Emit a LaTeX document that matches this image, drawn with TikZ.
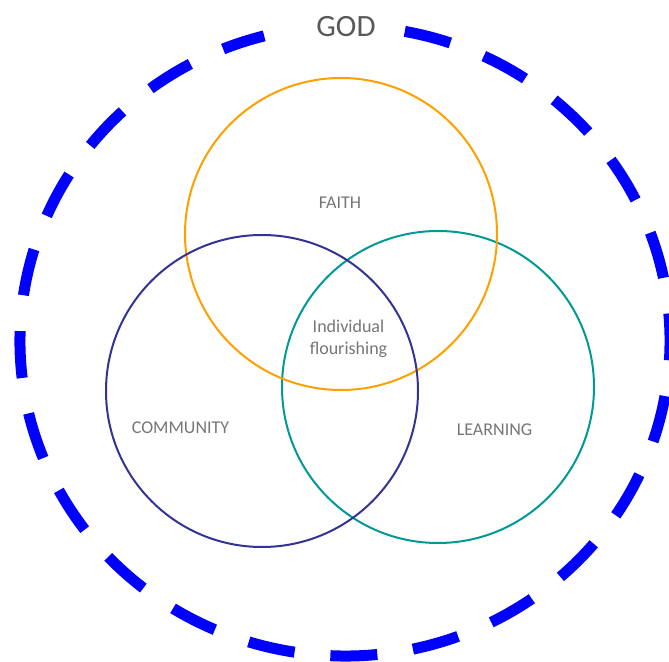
\documentclass[tikz,border=0pt]{standalone}
\usepackage{fontspec}
\setmainfont{Carlito}
\usepackage{tikz}

\definecolor{godblue}{RGB}{0,0,255}
\definecolor{faithorange}{RGB}{255,160,0}
\definecolor{communitynavy}{RGB}{51,51,150}
\definecolor{learningteal}{RGB}{0,153,150}
\definecolor{godgray}{RGB}{89,89,89}
\definecolor{taggray}{RGB}{118,118,118}

\tikzset{
  ring/.style={line width=2pt},
  tag/.style={text=taggray, font=\fontsize{18}{22.5}\selectfont, align=center, inner sep=0pt}
}

\begin{document}
\begin{tikzpicture}[x=1pt,y=1pt]
\useasboundingbox (0,0) rectangle (669,661);
% Outer dashed ring, open at the top
\draw[godblue, line width=11pt, dash pattern=on 47pt off 36pt]
  (345,320) ++(79.4:325pt and 315pt)
  arc[start angle=79.4, end angle=-255.6, x radius=325pt, y radius=315pt];
\node[text=godgray, font=\fontsize{31}{37}\selectfont, inner sep=0pt] (god) at (346,634) {GOD};
% Three circles
\draw[ring, learningteal] (438,274) circle[radius=156pt];
\draw[ring, faithorange] (341,427) circle[radius=156pt];
\draw[ring, communitynavy] (262,270) circle[radius=156pt];
\node[tag] (faith) at (340,458) {FAITH};
\node[tag] (community) at (180.5,233) {COMMUNITY};
\node[tag] (learning) at (494.5,231) {LEARNING};
\node[tag] (flourish) at (348.5,322) {Individual\\flourishing};
\end{tikzpicture}
\end{document}
